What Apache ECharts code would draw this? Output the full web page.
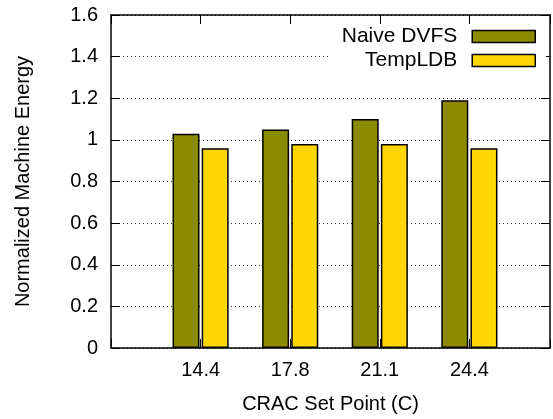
<!DOCTYPE html>
<html><head><meta charset="utf-8">
<script src="https://cdn.jsdelivr.net/npm/echarts@6/dist/echarts.min.js"></script>
<style>html,body{margin:0;padding:0;background:#fff}#c{width:553px;height:419px}</style>
</head><body><div id="c"></div>
<script>
const categories = ['14.4', '17.8', '21.1', '24.4'];
const naiveDVFS = [1.03, 1.05, 1.10, 1.19];
const tempLDB = [0.96, 0.98, 0.98, 0.96];
const yTicks = [0, 0.2, 0.4, 0.6, 0.8, 1, 1.2, 1.4, 1.6];

const FONT = 'Liberation Sans';
const chart = echarts.init(document.getElementById('c'), null, {renderer: 'canvas'});
const axisLine = {show: true, onZero: false, lineStyle: {color: '#000', width: 1.5}};
const tick = {show: true, inside: true, length: 9, lineStyle: {color: '#000', width: 1}};
chart.setOption({
  animation: false,
  backgroundColor: '#fff',
  textStyle: {fontFamily: FONT},
  grid: {left: 111, right: 1, top: 15, bottom: 69, containLabel: false},
  legend: {
    orient: 'vertical', right: 7, top: 24, align: 'right', icon: 'rect',
    itemWidth: 63, itemHeight: 12, itemGap: 3,
    backgroundColor: '#fff', padding: [2, 10, 2, 13],
    textStyle: {fontFamily: FONT, fontSize: 21, color: '#000', padding: [0, 10, 0, 0]},
    data: [
      {name: 'Naive DVFS', itemStyle: {color: '#8b8b00', borderColor: '#000', borderWidth: 1.5}},
      {name: 'TempLDB', itemStyle: {color: '#ffd700', borderColor: '#000', borderWidth: 1.5}}
    ]
  },
  xAxis: [{
    type: 'value', min: -1, max: 3.9, interval: 1, position: 'bottom',
    name: 'CRAC Set Point (C)', nameLocation: 'middle', nameGap: 46,
    nameTextStyle: {fontFamily: FONT, fontSize: 20, color: '#000'},
    axisLine: axisLine, axisTick: tick, splitLine: {show: false},
    axisLabel: {fontFamily: FONT, fontSize: 20, color: '#000', margin: 12,
      formatter: v => (v >= 0 && categories[v] !== undefined) ? categories[v] : ''}
  }, {
    type: 'value', min: -1, max: 3.9, interval: 1, position: 'top',
    axisLine: axisLine, axisTick: tick, splitLine: {show: false}, axisLabel: {show: false}
  }],
  yAxis: [{
    type: 'value', min: 0, max: 1.6, interval: 0.2, position: 'left',
    name: 'Normalized Machine Energy', nameLocation: 'middle', nameGap: 78,
    nameTextStyle: {fontFamily: FONT, fontSize: 20, color: '#000'},
    axisLine: axisLine, axisTick: tick,
    splitLine: {show: true, lineStyle: {color: '#333', width: 1, type: [1, 3]}},
    axisLabel: {fontFamily: FONT, fontSize: 20, color: '#000', margin: 13,
      formatter: v => { const t = yTicks.find(x => Math.abs(x - v) < 1e-6); return String(t !== undefined ? t : v); }}
  }, {
    type: 'value', min: 0, max: 1.6, interval: 0.2, position: 'right',
    axisLine: axisLine, axisTick: tick, splitLine: {show: false}, axisLabel: {show: false}
  }],
  series: [{
    name: 'Naive DVFS', type: 'bar', barWidth: 27, barGap: '8%',
    itemStyle: {color: '#8b8b00', borderColor: '#000', borderWidth: 1.5},
    data: naiveDVFS.map((v, i) => [i, v])
  }, {
    name: 'TempLDB', type: 'bar', barWidth: 27, barGap: '8%',
    itemStyle: {color: '#ffd700', borderColor: '#000', borderWidth: 1.5},
    data: tempLDB.map((v, i) => [i, v])
  }]
});
</script></body></html>
